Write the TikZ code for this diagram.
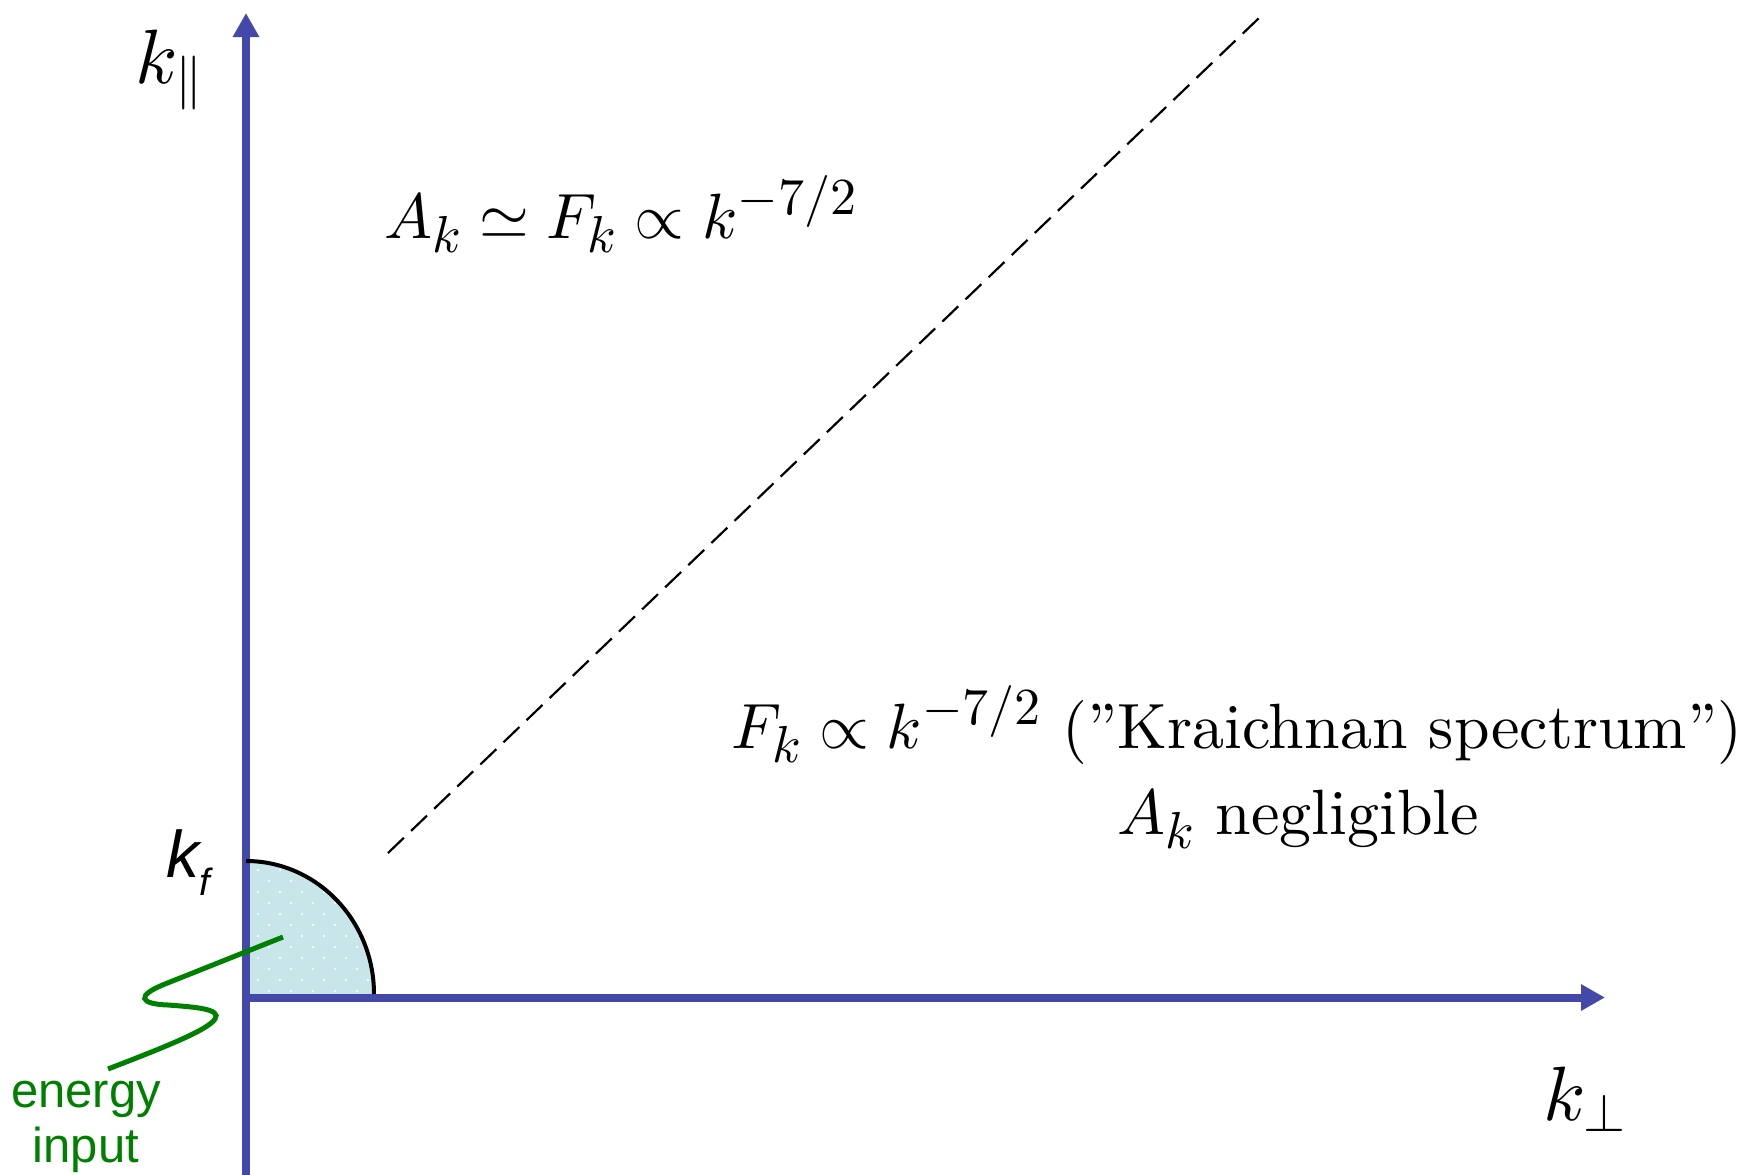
\RequirePackage{fix-cm}
\documentclass[tikz,border=0pt]{standalone}
\usepackage{fontspec}
\setmainfont{lmroman10-regular}[Extension=.otf, ItalicFont=lmroman10-italic, BoldFont=lmroman10-bold]
\newfontfamily\lsans{Liberation Sans}
\DeclareFontShape{OML}{cmm}{m}{it}{<->cmmi10}{}
\DeclareFontShape{OMS}{cmsy}{m}{n}{<->cmsy10}{}
\DeclareFontShape{OT1}{cmr}{m}{n}{<->cmr10}{}
\DeclareMathSizes{64}{64}{52}{43}
\usetikzlibrary{arrows.meta}
\definecolor{axisblue}{RGB}{68,72,168}
\definecolor{discfill}{RGB}{200,230,233}
\definecolor{wavegreen}{RGB}{0,128,0}
\tikzset{
  axisline/.style={draw=axisblue, line width=8pt, -{Triangle[length=24pt,width=25pt]}},
  diag/.style={draw=black, line width=2.2pt, dash pattern=on 22pt off 10pt},
  wave/.style={draw=wavegreen, line width=5pt},
  axislabel/.style={inner sep=0pt, anchor=base west, font=\fontsize{77}{90}\selectfont},
  mathlabel/.style={inner sep=0pt, anchor=base west, font=\fontsize{64}{78}\selectfont},
  sanslabel/.style={inner sep=0pt, font=\lsans\fontsize{49}{55}\selectfont, text=wavegreen, align=center, anchor=base},
}
\begin{document}
\begin{tikzpicture}[x=1pt, y=-1pt]
\useasboundingbox (0,0) rectangle (1756,1175);
% key points
\coordinate (O) at (246,994);
\coordinate (ytop) at (246,13);
\coordinate (ybot) at (246,1175);
\coordinate (xstart) at (246,997.5);
\coordinate (xend) at (1605,997.5);
\coordinate (d0) at (388,853);
\coordinate (d1) at (1259,18);
\coordinate (w0) at (283,937);
\coordinate (w1) at (108,1069);
% forcing disc
\fill[discfill] (O) -- (246,861) arc[start angle=90, end angle=0, x radius=128pt, y radius=133pt] -- cycle;
\begin{scope}
  \clip (O) -- (246,861) arc[start angle=90, end angle=0, x radius=128pt, y radius=133pt] -- cycle;
  \foreach \i in {0,...,5} {
    \foreach \j in {-2,...,4} {
      \fill[white, opacity=0.85] (258+22*\i, 892+22*\j) circle[radius=1.3pt];
      \fill[white, opacity=0.85] (269+22*\i, 903+22*\j) circle[radius=1.3pt];
    }
  }
\end{scope}
% axes
\draw[axisline] (ybot) -- (ytop);
\draw[axisline] (xstart) -- (xend);
% disc outline
\draw[black, line width=4pt] (246,861) arc[start angle=90, end angle=0, x radius=128pt, y radius=133pt];
% diagonal
\draw[diag] (d0) -- (d1);
% labels
\node[axislabel] (kpar) at (135,83) {$k_{\parallel}$};
\node[axislabel] (kperp) at (1543,1120) {$k_{\perp}$};
\node[mathlabel] (upper) at (384,238) {$A_k\simeq F_k\propto k^{-7/2}$};
\node[mathlabel] (lower1) at (731,748) {$F_k\propto k^{-7/2}$ (''Kraichnan spectrum'')};
\node[mathlabel] (lower2) at (1117,834) {$A_k$ negligible};
\node[inner sep=0pt, anchor=base west, font=\lsans\itshape\fontsize{66}{70}\selectfont] (kf) at (166,877) {k\raisebox{-18pt}{\fontsize{38}{40}\selectfont f}};
% energy input
\draw[wave] (w0) -- (165,984) .. controls (135,996) and (140,1004) .. (168,1005)
  .. controls (195,1007) and (222,1009) .. (215,1019)
  .. controls (208,1030) and (165,1047) .. (w1);
\node[sanslabel] (energy) at (86,1162) {energy\\input};
\end{tikzpicture}
\end{document}
